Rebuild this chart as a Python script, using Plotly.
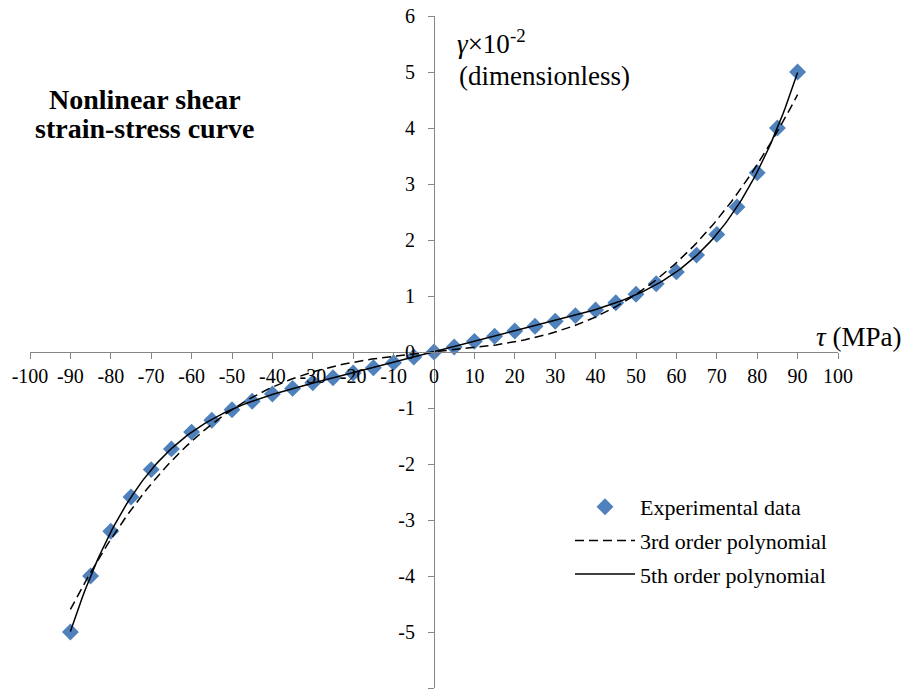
import numpy as np
import plotly.graph_objects as go

tau = [-90, -85, -80, -75, -70, -65, -60, -55, -50, -45, -40, -35, -30, -25, -20, -15, -10, -5,
       0, 5, 10, 15, 20, 25, 30, 35, 40, 45, 50, 55, 60, 65, 70, 75, 80, 85, 90]
gamma = [-5.0, -4.0, -3.2, -2.59, -2.1, -1.73, -1.43, -1.22, -1.03, -0.88, -0.75, -0.65, -0.55, -0.46, -0.375, -0.28, -0.19, -0.09,
         0.0, 0.09, 0.19, 0.28, 0.375, 0.46, 0.55, 0.65, 0.75, 0.88, 1.03, 1.22, 1.43, 1.73, 2.1, 2.59, 3.2, 4.0, 5.0]

x_ticks = list(range(-100, 101, 10))
y_ticks = list(range(-6, 7, 1))
x_ticktext = [str(v) for v in x_ticks]
y_ticktext = [str(v) for v in y_ticks]

FONT = "Liberation Serif, Times New Roman, serif"

xs = np.linspace(min(tau), max(tau), 300)
c3 = np.polyfit(tau, gamma, 3)
c5 = np.polyfit(tau, gamma, 5)
y3 = np.polyval(c3, xs)
y5 = np.polyval(c5, xs)

fig = go.Figure()
fig.add_trace(go.Scatter(x=tau, y=gamma, mode="markers", name="Experimental data", legendgroup="a",
                         marker=dict(symbol="diamond", size=13, color="#4F81BD")))
fig.add_trace(go.Scatter(x=xs, y=y3, mode="lines", name="3rd order polynomial", legendgroup="b",
                         line=dict(color="black", width=1.5, dash="9px,5px")))
fig.add_trace(go.Scatter(x=xs, y=y5, mode="lines", name="5th order polynomial", legendgroup="c",
                         line=dict(color="black", width=1.5)))

axis_common = dict(showgrid=False, zeroline=False, showline=True, linecolor="#868686", linewidth=1,
                   ticks="outside", ticklen=6, tickcolor="#868686", automargin=False,
                   tickfont=dict(family=FONT, size=20, color="black"))

fig.update_layout(
    width=904, height=698,
    margin=dict(l=30, r=66, t=16, b=10),
    paper_bgcolor="white", plot_bgcolor="white",
    font=dict(family=FONT, color="black"),
    xaxis=dict(range=[-100, 100], tickvals=x_ticks, ticktext=x_ticktext, anchor="free", position=0.5,
               **axis_common),
    yaxis=dict(range=[-6, 6], tickvals=y_ticks, ticktext=y_ticktext, anchor="free", position=0.5,
               ticklabelstandoff=9, **axis_common),
    showlegend=True,
    legend=dict(x=(570 - 30) / 808, y=(688 - 486) / 672, xanchor="left", yanchor="top",
                font=dict(family=FONT, size=22), traceorder="grouped",
                bgcolor="rgba(0,0,0,0)", itemwidth=60, tracegroupgap=2),
    annotations=[
        dict(text="<b>Nonlinear shear</b>", xref="paper", yref="paper",
             x=(145 - 30) / 808, y=(688 - 99) / 672, xanchor="center", yanchor="middle",
             showarrow=False, font=dict(family=FONT, size=28, color="black")),
        dict(text="<b>strain-stress curve</b>", xref="paper", yref="paper",
             x=(145 - 30) / 808, y=(688 - 129) / 672, xanchor="center", yanchor="middle",
             showarrow=False, font=dict(family=FONT, size=28, color="black")),
        dict(text="<i>γ</i>×10<sup>-2</sup>", xref="paper", yref="paper",
             x=(455 - 30) / 808, y=(688 - 42) / 672, xanchor="left", yanchor="middle",
             showarrow=False, font=dict(family=FONT, size=27, color="black")),
        dict(text="(dimensionless)", xref="paper", yref="paper",
             x=(457 - 30) / 808, y=(688 - 76) / 672, xanchor="left", yanchor="middle",
             showarrow=False, font=dict(family=FONT, size=27, color="black")),
        dict(text="<i>τ</i> (MPa)", xref="paper", yref="paper",
             x=(814 - 30) / 808, y=(688 - 337) / 672, xanchor="left", yanchor="middle",
             showarrow=False, font=dict(family=FONT, size=27, color="black")),
    ],
)

fig.write_html("out.html")
